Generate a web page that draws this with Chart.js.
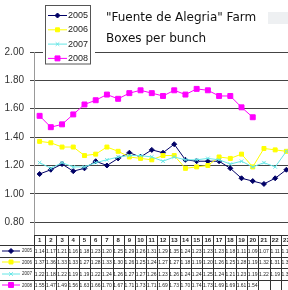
<!DOCTYPE html>
<html>
<head>
<meta charset="utf-8">
<script src="https://cdn.jsdelivr.net/npm/chart.js@4/dist/chart.umd.min.js"></script>
<style>
  html, body { margin: 0; padding: 0; background: #fff; overflow: hidden; }
  #wrap { position: relative; width: 288px; height: 290px; overflow: hidden; }
</style>
</head>
<body>
<div id="wrap"><canvas id="chart" width="297" height="290"></canvas></div>
<script>
// weeks shown in the data table (the picture is cut after week 23)
const weeks = [1, 2, 3, 4, 5, 6, 7, 8, 9, 10, 11, 12, 13, 14, 15, 16, 17, 18, 19, 20, 21, 22, 23];
const years = ['2005', '2006', '2007', '2008'];
const y2005 = [1.14, 1.17, 1.21, 1.16, 1.18, 1.23, 1.20, 1.25, 1.29, 1.26, 1.31, 1.29, 1.35, 1.24, 1.23, 1.23, 1.23, 1.18, 1.11, 1.09, 1.07, 1.11, 1.17];
const y2006 = [1.37, 1.36, 1.33, 1.33, 1.27, 1.28, 1.33, 1.30, 1.26, 1.25, 1.24, 1.27, 1.27, 1.18, 1.19, 1.20, 1.26, 1.25, 1.28, 1.19, 1.32, 1.31, 1.30];
const y2007 = [1.22, 1.18, 1.22, 1.19, 1.19, 1.22, 1.24, 1.26, 1.27, 1.27, 1.26, 1.23, 1.26, 1.24, 1.24, 1.25, 1.24, 1.21, 1.23, 1.19, 1.22, 1.19, 1.30];
const y2008 = [1.55, 1.47, 1.49, 1.56, 1.63, 1.66, 1.70, 1.67, 1.71, 1.73, 1.71, 1.69, 1.73, 1.70, 1.74, 1.73, 1.69, 1.69, 1.61, 1.54, null, null, null];
const yTicks = [0.8, 1.0, 1.2, 1.4, 1.6, 1.8, 2.0];
const titleLines = ['"Fuente de Alegria" Farm', 'Boxes per bunch'];

const colors = ['#000066', '#ffff00', '#66e6e6', '#ff00ff'];
const styles = [
  { pointStyle: 'rectRot', radius: 2.5 },
  { pointStyle: 'rect', radius: 2.8 },
  { pointStyle: 'crossRot', radius: 2.5 },
  { pointStyle: 'rect', radius: 3.5 }
];
const series = [y2005, y2006, y2007, y2008];

function drawMarker(ctx, i, x, y) {
  ctx.save();
  ctx.fillStyle = colors[i];
  ctx.strokeStyle = colors[i];
  ctx.lineWidth = 1;
  Chart.helpers.drawPoint(ctx, { pointStyle: styles[i].pointStyle, radius: styles[i].radius, rotation: 0, borderWidth: 1 }, x, y);
  ctx.restore();
}

function drawKey(ctx, i, x0, x1, y) {
  ctx.save();
  ctx.strokeStyle = colors[i];
  ctx.lineWidth = 1;
  ctx.beginPath();
  ctx.moveTo(x0, y + 0.5);
  ctx.lineTo(x1, y + 0.5);
  ctx.stroke();
  ctx.restore();
  drawMarker(ctx, i, (x0 + x1) / 2, y + 0.5);
}

const overlay = {
  id: 'overlay',
  afterDraw(chart) {
    const ctx = chart.ctx;
    const a = chart.chartArea;
    const colW = (a.right - a.left) / weeks.length;
    ctx.save();

    // title
    ctx.fillStyle = '#eef0f2';
    ctx.fillRect(268, 12, 22, 12);
    ctx.fillStyle = '#111';
    ctx.font = '12px "DejaVu Sans", Verdana, sans-serif';
    ctx.textBaseline = 'middle';
    ctx.textAlign = 'left';
    ctx.fillText(titleLines[0], 106, 17.5);
    ctx.fillText(titleLines[1], 106, 39);

    // legend box
    ctx.fillStyle = '#fff';
    ctx.fillRect(43, 4, 52, 62);
    ctx.strokeStyle = '#555';
    ctx.lineWidth = 1;
    ctx.strokeRect(45.5, 5.5, 45, 58.5);
    ctx.font = '9px "Liberation Sans", Arial, sans-serif';
    years.forEach((yr, i) => {
      const y = 15 + i * 14.3;
      drawKey(ctx, i, 48, 67, y);
      ctx.fillStyle = '#222';
      ctx.textAlign = 'left';
      ctx.fillText(yr, 68, y + 0.5);
    });

    // data table
    const top = 235;
    const rowB = [245, 256.5, 268, 279.5, 291];
    ctx.strokeStyle = '#333';
    ctx.lineWidth = 1;
    ctx.beginPath();
    ctx.moveTo(a.left, top + 0.5);
    ctx.lineTo(chart.width, top + 0.5);
    rowB.forEach(yb => {
      ctx.moveTo(0, Math.round(yb) + 0.5);
      ctx.lineTo(chart.width, Math.round(yb) + 0.5);
    });
    for (let k = 0; k <= weeks.length; k++) {
      const xx = Math.round(a.left + k * colW) + 0.5;
      ctx.moveTo(xx, k === 0 ? a.bottom : top);
      ctx.lineTo(xx, 291);
    }
    ctx.stroke();

    ctx.textAlign = 'center';
    ctx.textBaseline = 'middle';
    ctx.fillStyle = '#222';
    ctx.font = 'bold 6px "Liberation Sans", Arial, sans-serif';
    weeks.forEach((w, k) => {
      ctx.fillText(String(w), a.left + (k + 0.5) * colW, (top + rowB[0]) / 2 + 0.5);
    });
    ctx.font = '5px "Liberation Sans", Arial, sans-serif';
    series.forEach((vals, i) => {
      const y = (rowB[i] + rowB[i + 1]) / 2;
      vals.forEach((v, k) => {
        if (v === null) return;
        ctx.fillText(v.toFixed(2), a.left + (k + 0.5) * colW, y + 0.5);
      });
      drawKey(ctx, i, 2, 20, Math.round(y) - 0.5);
      ctx.fillStyle = '#222';
      ctx.font = '4.5px "Liberation Sans", Arial, sans-serif';
      ctx.fillText(years[i], 27, y + 0.5);
      ctx.font = '5px "Liberation Sans", Arial, sans-serif';
    });

    ctx.restore();
  }
};

new Chart(document.getElementById('chart'), {
  type: 'line',
  data: {
    labels: weeks,
    datasets: series.map((vals, i) => ({
      label: years[i],
      data: vals,
      borderColor: colors[i],
      backgroundColor: colors[i],
      borderWidth: 1,
      pointStyle: styles[i].pointStyle,
      pointRadius: styles[i].radius,
      pointBorderWidth: 1,
      pointBorderColor: colors[i],
      pointBackgroundColor: colors[i],
      tension: 0,
      spanGaps: false,
      order: 3 - i
    }))
  },
  options: {
    responsive: false,
    animation: false,
    layout: { padding: { top: 52, bottom: 55, left: 0, right: 0 } },
    plugins: {
      legend: { display: false },
      title: { display: false },
      tooltip: { enabled: false }
    },
    scales: {
      x: {
        type: 'category',
        display: false,
        offset: true
      },
      y: {
        min: 0.71,
        max: 2.0,
        afterBuildTicks: (axis) => { axis.ticks = yTicks.map(v => ({ value: v })); },
        afterFit: (axis) => { axis.width = 34; },
        grid: { color: '#444', lineWidth: 1, tickLength: 4, drawTicks: true },
        border: { color: '#999', width: 1 },
        ticks: {
          padding: 6,
          color: '#333',
          font: { family: '"Liberation Sans", Arial, sans-serif', size: 10 },
          callback: (v) => Number(v).toFixed(2)
        }
      }
    }
  },
  plugins: [overlay]
});
</script>
</body>
</html>
